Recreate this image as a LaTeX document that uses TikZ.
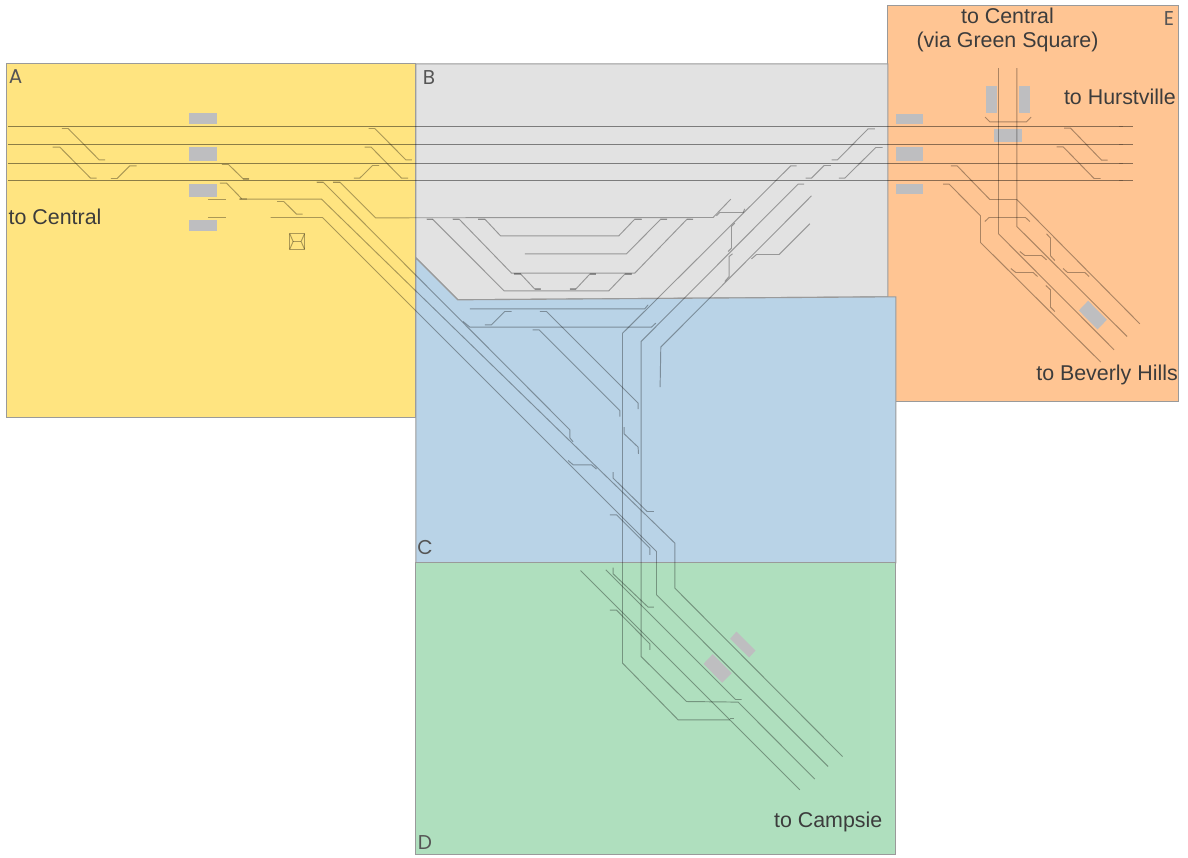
\documentclass[tikz,border=0pt]{standalone}
\usepackage{fontspec}
\setmainfont{Liberation Sans}
\newfontfamily\letterfont{Poppins}
\definecolor{panelA}{HTML}{FFE480}
\definecolor{panelB}{HTML}{E2E2E2}
\definecolor{panelC}{HTML}{B9D3E7}
\definecolor{panelD}{HTML}{AFDFBE}
\definecolor{panelE}{HTML}{FFC593}
\definecolor{platf}{HTML}{BEBEC0}
\definecolor{edgec}{HTML}{9A9A9A}
\definecolor{inkc}{HTML}{3C3C3C}
\definecolor{letterc}{HTML}{555555}
\tikzset{
 panel/.style={draw=edgec,line width=1.1pt},
 mainline/.style={draw=black,draw opacity=.45,line width=1pt},
 trk/.style={draw=black,draw opacity=.33,line width=.95pt},
 tail/.style={draw=black,draw opacity=.2,line width=1.6pt},
 platform/.style={fill=platf,draw=none},
 label/.style={text=inkc,font=\fontsize{21.4}{24}\selectfont,inner sep=0pt},
 letterl/.style={text=letterc,font=\letterfont\fontsize{20}{22}\selectfont,inner sep=0pt},
}
\begin{document}
\begin{tikzpicture}[x=1pt,y=-1pt]
\useasboundingbox (0,0) rectangle (1188,857);
\fill[white] (0,0) rectangle (1188,857);
\begin{scope}[shift={(-.2,-.2)}]
% panels
\path[panel,fill=panelA] (7,64) rectangle (416,418);
\path[panel,fill=panelE] (888,6) rectangle (1179,402);
\path[panel,fill=panelB] (416,64) -- (888,64) -- (888,297) -- (458,300) -- (416,258) -- cycle;
\path[panel,fill=panelC] (416,258) -- (458,300) -- (896,297) -- (896,563) -- (416,563) -- cycle;
\path[panel,fill=panelD] (416,563) rectangle (896,855);
% platforms
\foreach \a/\b/\c/\d in {189/113.5/216.7/124, 189/147/216.7/160.7, 189/183.7/216.7/197.3, 189/220/216.7/231,
 895.7/113.7/923.3/124, 895.7/147.3/923.3/160.7, 895.7/183.7/923.3/194,
 986/85.7/996.7/112.7, 1019.3/85.7/1030/112.7, 994.3/129/1021.7/142.3}
  \path[platform] (\a,\b) rectangle (\c,\d);
\path[platform] (1088.3,301) -- (1107,320) -- (1097.7,329.7) -- (1079,310.7) -- cycle;
\path[platform] (736.7,631.7) -- (755.7,650.7) -- (749.3,657.7) -- (730.3,639) -- cycle;
\path[platform] (713,654.3) -- (732,673.3) -- (722.3,683) -- (703.7,664) -- cycle;
% main lines
\foreach \y in {126.7,144.7,163.7,180.7}
  \path[mainline] (8,\y) -- (1133.3,\y);
\foreach \y in {126.7,144.7,163.7,180.7}
  \path[tail] (1119.5,\y) -- (1123.5,\y);
% joint tails
\foreach \a/\b/\c in {426.7/432.7/219.5, 452.7/459.3/219.5, 478.3/485/219.5, 635/641.7/219.5, 661/667.3/219.5, 687.3/693.3/219.5,
 514/520.7/274, 535/540.7/289.3, 570/576/289.3, 590/596/274, 625/631.7/274, 316.7/323.3/182.5, 333.3/340/182.5, 243.3/249.3/179.3, 240/247/199.3}
  \path[tail] (\a,\c) -- (\b,\c);
% A crossovers
\path[trk] (62,128.7) -- (68.3,128.7) -- (99.3,160) -- (105.3,160);
\path[trk] (52.7,147.3) -- (60,147.3) -- (90.7,178.3) -- (96.7,178.3);
\path[trk] (111,178.7) -- (117.3,178.7) -- (130,166) -- (136.7,166);
\path[trk] (222,164.7) -- (228.7,164.7) -- (243.3,179) -- (249.3,179);
\path[trk] (220,183.3) -- (226.7,183.3) -- (241.7,198.7);
\path[trk] (208,199.3) -- (226,199.3);
\path[trk] (208,217.7) -- (226,217.7);
\path[trk] (277.3,201.7) -- (284,201.7) -- (296.7,214.3) -- (302.7,214.3);
\path[trk] (368.7,128.7) -- (375,128.7) -- (406,160) -- (412,160);
\path[trk] (364.7,147.3) -- (371.3,147.3) -- (401.7,178.3) -- (408.3,178.3);
\path[trk] (354,178.3) -- (360,178.3) -- (372.7,165.7) -- (379.3,165.7);
% station building
\path[trk] (290,234) rectangle (304.7,249.3);
\path[trk] (290,234) -- (293.3,241.7) -- (290,249.3);
\path[trk] (304.7,234) -- (301.3,241.7) -- (304.7,249.3);
\path[trk] (293.3,241.7) -- (301.3,241.7);
% long diagonals
\path[trk] (239.3,199.3) -- (321.7,199.3) -- (675,543.3) -- (675,588.3) -- (842.7,756.7);
\path[trk] (270.7,217.7) -- (322.7,217.7) -- (656.7,551.7) -- (656.7,595) -- (828.3,766.7);
\path[trk] (316.7,182.3) -- (323.3,182.3) -- (570,430) -- (570,438) -- (573.3,442);
\path[trk] (333.3,182.3) -- (340,182.3) -- (375.7,218) -- (713.3,217.7) -- (731,199.3);
\path[trk] (716.7,216) -- (720,212.7) -- (743.3,212.7) -- (745,209);
% B yard
\path[trk] (426.7,219.3) -- (432.7,219.3) -- (504.3,291) -- (609,291) -- (625,274.3) -- (631.7,274.3);
\path[trk] (452.7,219.3) -- (459.3,219.3) -- (511.7,273.3) -- (635,273.3) -- (687.3,219.3) -- (693.3,219.3);
\path[trk] (478.3,219.3) -- (485,219.3) -- (500.7,236) -- (619,236) -- (635,219.3) -- (641.7,219.3);
\path[trk] (525,254) -- (626.7,254) -- (661,219.3) -- (667.3,219.3);
\path[trk] (514,274) -- (520.7,274) -- (535,289.3) -- (540.7,289.3);
\path[trk] (570,289.3) -- (576,289.3) -- (590,274.3) -- (596,274.3);
% B right
\path[trk] (831.7,160) -- (837.7,160) -- (868.3,129) -- (875,129);
\path[trk] (839,178.3) -- (845,178.3) -- (876,147.7) -- (882.7,147.7);
\path[trk] (805.7,178.3) -- (811.7,178.3) -- (824.3,165.7) -- (831,165.7);
\path[trk] (735,223.3) -- (731.7,226.7) -- (731.7,248.3) -- (728.3,251.7);
\path[trk] (732.7,254) -- (729.3,256.7) -- (729.3,276.7) -- (725,281.7);
\path[trk] (810,224) -- (779.3,254.7) -- (756.7,254.7) -- (751.7,259);
% verticals from B
\path[trk] (796.7,166) -- (791,166) -- (622.7,333.5) -- (622.7,663.3) -- (678.3,720) -- (730,720);
\path[trk] (804.3,184.3) -- (798.3,184.3) -- (641.3,341.7) -- (641.3,656.7) -- (686.7,701.7) -- (738.3,702.3) -- (815,779.3);
\path[trk] (811.7,196) -- (661,347.3) -- (660.3,387.3);
% C
\path[trk] (470,309) -- (645,309) -- (648.3,305);
\path[trk] (485,325) -- (491.7,325) -- (505,311.7) -- (511.7,311.7);
\path[trk] (463.3,321.7) -- (470,327.3) -- (651.7,327.3) -- (656,323.3);
\path[trk] (540,311.7) -- (546.7,311.7) -- (638.3,403.3) -- (638.3,409.3);
\path[trk] (532.7,330) -- (539.3,330) -- (620,410.7) -- (620,416.7);
\path[trk] (624.3,427.3) -- (624.3,434) -- (638.3,447.3) -- (638.7,454);
\path[trk] (568.3,460.7) -- (573.3,465) -- (591.7,465) -- (596.7,469.3);
\path[trk] (613.3,472.3) -- (613.3,478.3) -- (647.3,511.7) -- (654,511.7);
\path[trk] (610,515) -- (616.7,515) -- (650,548.3) -- (650,555);
% D
\path[trk] (580.7,570.7) -- (800,790);
\path[trk] (606,570) -- (735.7,699.7) -- (741.7,699.7);
\path[trk] (730,718.3) -- (734,718.3);
\path[trk] (613.3,567.7) -- (613.3,574) -- (648.3,607.3) -- (654,607.3);
\path[trk] (610,610.3) -- (616.7,610.3) -- (650,644) -- (650,650);
% E
\path[trk] (998.7,68.3) -- (998.7,234) -- (1114.3,350);
\path[trk] (1017,68.3) -- (1017,226.7) -- (1127.3,336.7);
\path[trk] (951,166) -- (957.3,166) -- (990,199.7) -- (1017,199.7) -- (1140,324);
\path[trk] (943.3,184.3) -- (949.3,184.3) -- (980.7,216) -- (980.7,242.7) -- (1101,362.3);
\path[trk] (985,221.7) -- (989.3,217.7) -- (1025.7,217.7) -- (1030,221.7);
\path[trk] (1020,251.7) -- (1025,255.7) -- (1041.7,255.7) -- (1046.7,260);
\path[trk] (1046.7,234) -- (1050.7,238.3) -- (1050.7,256) -- (1055,260.7);
\path[trk] (1011,268.7) -- (1016,272.7) -- (1033.3,272.7) -- (1037.7,276.7);
\path[trk] (1063.3,268.7) -- (1067.7,272.7) -- (1085,272.7) -- (1089.3,276.7);
\path[trk] (1046,285.7) -- (1050.7,290) -- (1050.7,307.3) -- (1055,311.7);
\path[trk] (985.3,117.3) -- (990,122) -- (1026.7,122) -- (1031.3,117.3);
\path[trk] (1064.3,128.3) -- (1070.7,128.3) -- (1101.7,160.3) -- (1107.7,160.3);
\path[trk] (1056.7,147) -- (1063.3,147) -- (1094.3,178.7) -- (1100.7,178.7);
\end{scope}
% labels
\node[label,anchor=west] (tocentral) at (8.5,217) {to Central};
\node[label,anchor=center,align=center] (tocentralgs) at (1007.5,30) {to Central\\(via Green Square)};
\node[label,anchor=east] (tohurst) at (1176,97) {to Hurstville};
\node[label,anchor=east] (tobev) at (1178,375) {to Beverly Hills};
\node[label,anchor=east] (tocamp) at (882.5,822) {to Campsie};
\node[letterl] (la) at (15.5,76.5) {A};
\node[letterl] (lb) at (429,77.5) {B};
\node[letterl] (lc) at (425,547) {C};
\node[letterl] (ld) at (425,843) {D};
\node[letterl] (le) at (1169,19) {E};
\end{tikzpicture}
\end{document}
